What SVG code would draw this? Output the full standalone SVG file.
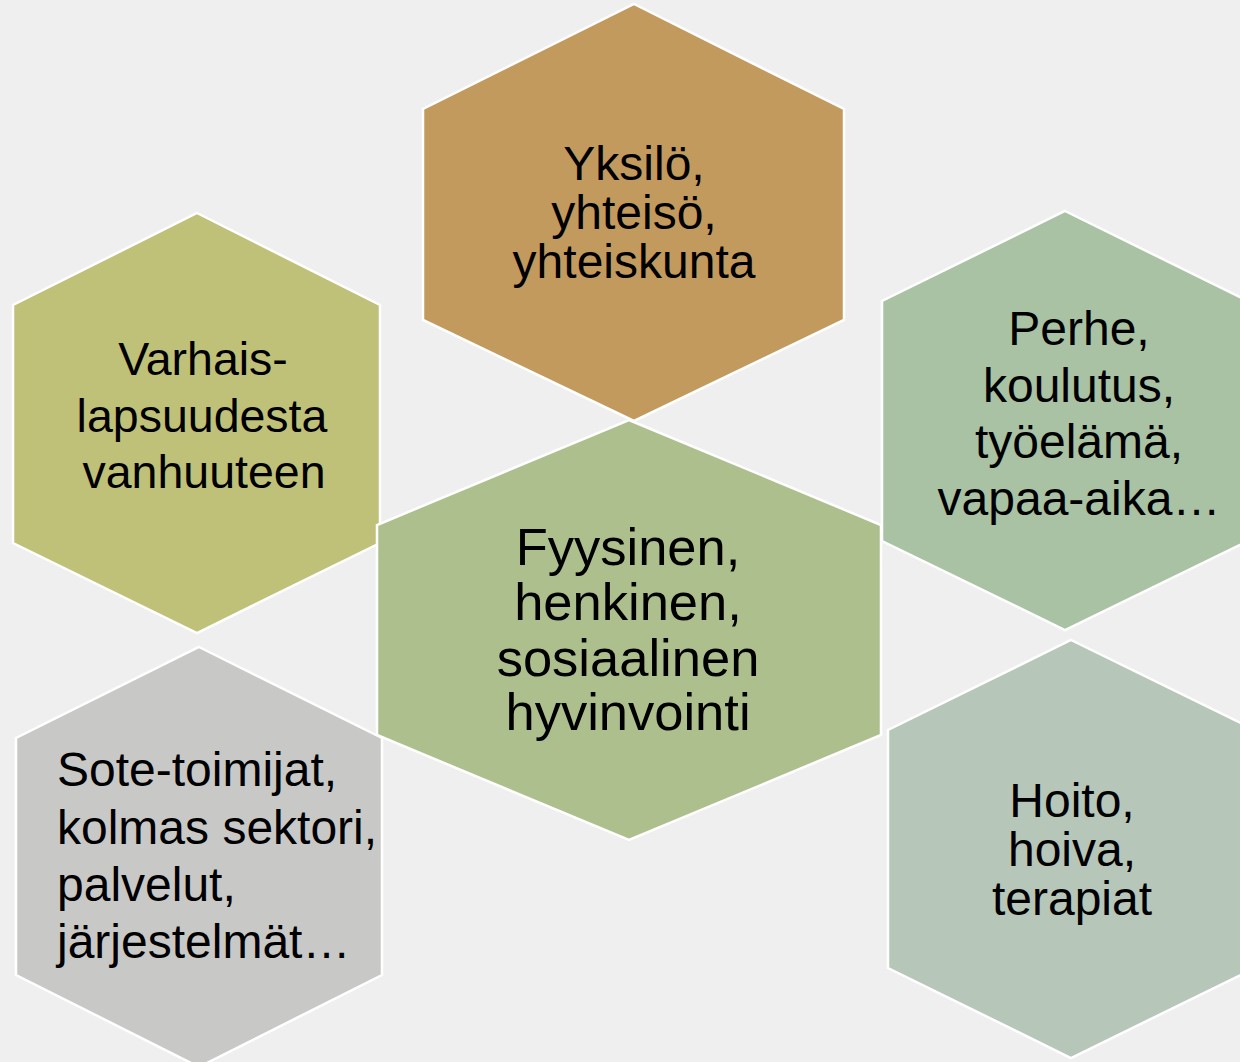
<svg xmlns="http://www.w3.org/2000/svg" width="1240" height="1062" viewBox="0 0 1240 1062">
<style>
.hex{stroke:#FFFFFF;stroke-width:2.5;stroke-linejoin:miter}
.t{font-family:"Liberation Sans",Arial,sans-serif;fill:#000000}
.m{text-anchor:middle}
</style>
<rect x="0" y="0" width="1240" height="1062" fill="#EFEFEF"/>
<g id="connectors"></g>
<g id="node-top">
<polygon class="hex" fill="#C39A5E" points="634,4 844,109 844,320 634,421 423,320 423,109"/>
<text class="t m" font-size="48"><tspan x="634" y="180">Yksilö,</tspan><tspan x="634" y="229">yhteisö,</tspan><tspan x="634" y="278">yhteiskunta</tspan></text>
</g>
<g id="node-left">
<polygon class="hex" fill="#C0C178" points="197,213 380,305 380,543 197,633 13,543 13,305"/>
<text class="t m" font-size="46.5"><tspan x="203" y="375">Varhais-</tspan><tspan x="202" y="432">lapsuudesta</tspan><tspan x="204" y="488">vanhuuteen</tspan></text>
</g>
<g id="node-right-top">
<polygon class="hex" fill="#A9C2A3" points="1065,211 1248,301 1248,541 1065,630 882,541 882,301"/>
<text class="t m" font-size="48"><tspan x="1079" y="345">Perhe,</tspan><tspan x="1079" y="402">koulutus,</tspan><tspan x="1079" y="458">työelämä,</tspan><tspan x="1079" y="515">vapaa-aika…</tspan></text>
</g>
<g id="node-bottom-left">
<polygon class="hex" fill="#C8C9C7" points="199,647 382,738 382,975 199,1067 16,975 16,738"/>
<text class="t" font-size="48"><tspan x="57" y="786">Sote-toimijat,</tspan><tspan x="57" y="844">kolmas sektori,</tspan><tspan x="57" y="901">palvelut,</tspan><tspan x="57" y="958">järjestelmät…</tspan></text>
</g>
<g id="node-bottom-right">
<polygon class="hex" fill="#B6C6B8" points="1071,640 1255,730 1255,968 1071,1058 888,968 888,730"/>
<text class="t m" font-size="48"><tspan x="1072" y="817">Hoito,</tspan><tspan x="1072" y="866">hoiva,</tspan><tspan x="1072" y="915">terapiat</tspan></text>
</g>
<g id="node-center">
<polygon class="hex" fill="#AEBF8E" points="629,420 881,525 881,735 629,840 377,735 377,525"/>
<text class="t m" font-size="52.5"><tspan x="628" y="565">Fyysinen,</tspan><tspan x="628" y="620">henkinen,</tspan><tspan x="628" y="676">sosiaalinen</tspan><tspan x="628" y="730">hyvinvointi</tspan></text>
</g>
</svg>
